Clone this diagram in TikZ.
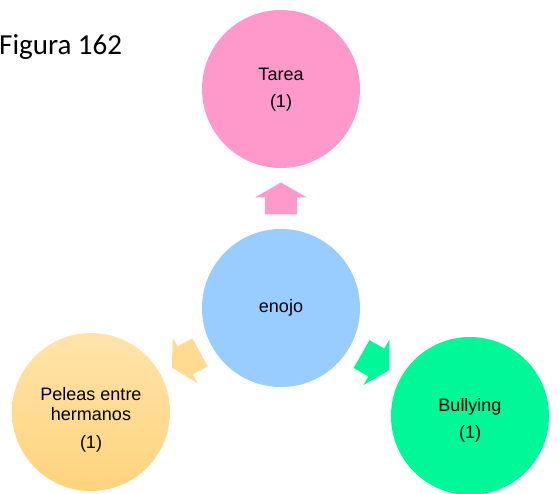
\documentclass[tikz,border=0pt]{standalone}
\usepackage{fontspec}
\setmainfont{Liberation Sans}
\newfontfamily\captionfont{Carlito}
\usetikzlibrary{calc}
\definecolor{rosa}{HTML}{FF99CC}
\definecolor{celeste}{HTML}{99CCFF}
\definecolor{naranja}{HTML}{FFDA90}
\definecolor{naranjaclaro}{HTML}{FFE4AA}
\definecolor{naranjaosc}{HTML}{FFD37C}
\definecolor{verde}{HTML}{00F898}
\newcommand{\flecha}[3]{\fill[#3, shift={(#1)}, rotate=#2] (0,16) -- (26,1) -- (16,1) -- (16,-16) -- (-16,-16) -- (-16,1) -- (-26,1) -- cycle;}
\tikzset{burbuja/.style={circle, minimum size=158pt, inner sep=0pt},
	etiqueta/.style={align=center, inner sep=0pt, font=\fontsize{18}{20}\selectfont}}

\begin{document}
\begin{tikzpicture}[x=1pt,y=1pt]
	\useasboundingbox (0,0) rectangle (559,493);
	\node[anchor=base west, inner sep=0pt, font=\captionfont\fontsize{29}{31}\selectfont] (titulo) at (-1,438) {Figura 162};
	\node[burbuja, fill=rosa] (tarea) at (281,404) {};
	\node[burbuja, fill=celeste] (enojo) at (281,185) {};
	\node[burbuja, top color=naranjaclaro, bottom color=naranjaosc] (peleas) at (91,81) {};
	\node[burbuja, fill=verde] (bullying) at (470,77) {};
	\node[etiqueta] (tarea-t) at ([yshift=-1pt]tarea) {Tarea\\[7pt](1)};
	\node[etiqueta] (enojo-t) at (enojo) {enojo};
	\node[etiqueta] (peleas-t) at ([yshift=-8pt]peleas) {Peleas entre\\hermanos\\[8pt](1)};
	\node[etiqueta] (bullying-t) at ([yshift=-4pt]bullying) {Bullying\\[7pt](1)};
	\coordinate (f1) at ($(enojo)!0.5!(tarea)$);
	\coordinate (f2) at ($(enojo)!0.5!(peleas)$);
	\coordinate (f3) at ($(enojo)!0.5!(bullying)$);
	\flecha{f1}{0}{rosa}
	\flecha{f2}{118.7}{naranja}
	\flecha{f3}{-119.7}{verde}
\end{tikzpicture}
\end{document}
